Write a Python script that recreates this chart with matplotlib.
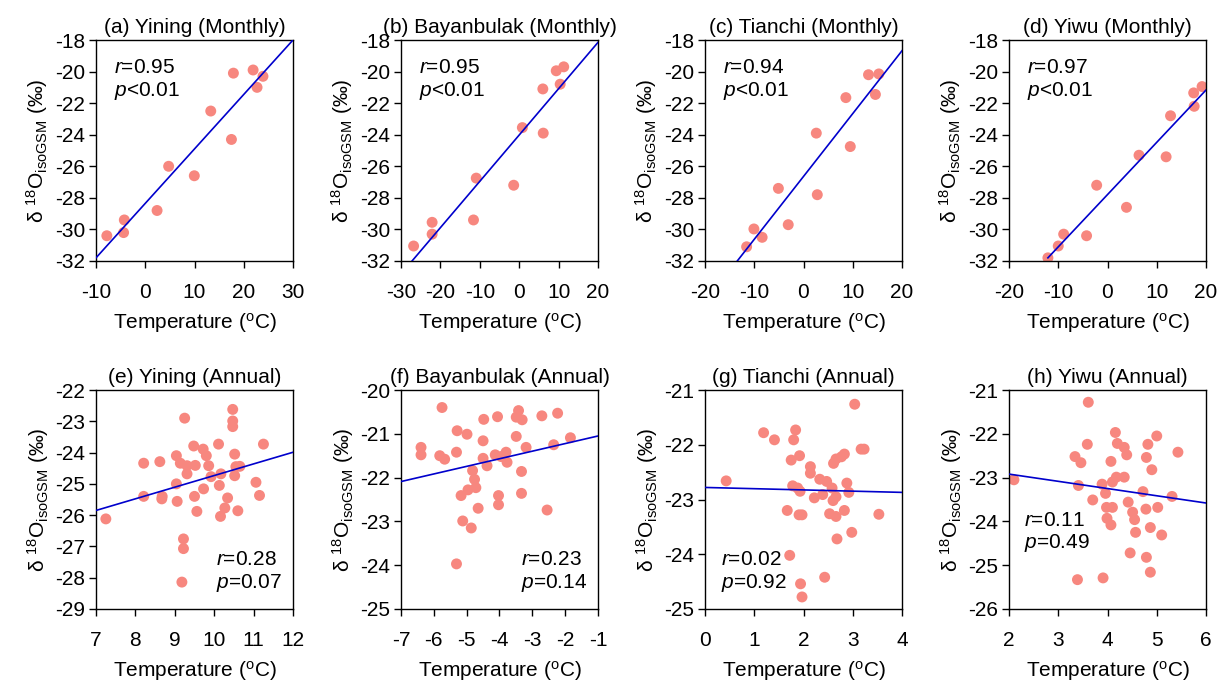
import matplotlib
matplotlib.use("Agg")
import matplotlib.pyplot as plt

plt.rcParams['font.family'] = ['Liberation Sans', 'DejaVu Sans']
plt.rcParams['mathtext.fontset'] = 'custom'
plt.rcParams['mathtext.rm'] = 'Liberation Sans'
plt.rcParams['mathtext.it'] = 'Liberation Sans:italic'
plt.rcParams['axes.unicode_minus'] = False

# ---------------- data ----------------
titles = ["(a) Yining (Monthly)", "(b) Bayanbulak (Monthly)", "(c) Tianchi (Monthly)", "(d) Yiwu (Monthly)",
          "(e) Yining (Annual)", "(f) Bayanbulak (Annual)", "(g) Tianchi (Annual)", "(h) Yiwu (Annual)"]

# Monthly
a_x = [-7.8, -4.25, -4.4, 2.4, 4.75, 9.96, 13.3, 17.5, 17.9, 21.9, 22.7, 23.9]
a_y = [-30.4, -29.4, -30.2, -28.8, -26.0, -26.6, -22.5, -24.3, -20.1, -19.9, -21.0, -20.3]
b_x = [-26.8, -22.1, -22.1, -11.6, -10.9, -1.4, 0.8, 6.0, 6.1, 9.4, 11.3, 10.4]
b_y = [-31.05, -29.55, -30.3, -29.4, -26.75, -27.2, -23.55, -21.1, -23.9, -19.95, -19.7, -20.8]
c_x = [-11.55, -10.07, -8.4, -5.1, -3.1, 2.6, 2.8, 8.6, 9.5, 13.2, 15.3, 14.6]
c_y = [-31.1, -29.97, -30.5, -27.4, -29.7, -23.9, -27.8, -21.65, -24.75, -20.2, -20.15, -21.45]
d_x = [-12.1, -10.0, -8.9, -4.25, -2.2, 3.85, 6.4, 11.9, 12.8, 17.5, 17.6, 19.2]
d_y = [-31.8, -31.05, -30.3, -30.4, -27.2, -28.6, -25.3, -25.4, -22.8, -21.35, -22.2, -20.95]

# Annual
e_x = [7.25, 8.21, 8.21, 8.62, 8.68, 8.67, 9.04, 9.14, 9.04, 9.06, 9.25, 9.31, 9.31, 9.22, 9.22, 9.18,
       9.48, 9.52, 9.50, 9.56, 9.72, 9.80, 9.73, 9.86, 9.92, 10.11, 10.13, 10.17, 10.16, 10.27, 10.34,
       10.47, 10.47, 10.47, 10.52, 10.52, 10.55, 10.65, 10.60, 11.06, 11.15, 11.25]
e_y = [-26.12, -24.34, -25.40, -24.29, -25.40, -25.48, -24.10, -24.34, -25.0, -25.56, -22.9, -24.42,
       -24.68, -26.76, -27.07, -28.14, -23.79, -24.41, -25.40, -25.88, -23.89, -24.10, -25.16, -24.42,
       -24.77, -23.73, -25.05, -24.68, -26.04, -25.77, -25.45, -22.62, -22.99, -23.17, -24.05, -24.74,
       -24.45, -24.44, -25.86, -24.95, -25.37, -23.73]
f_x = [-6.39, -6.39, -5.75, -5.82, -5.67, -5.29, -5.31, -5.31, -5.17, -5.12, -4.99, -4.96, -4.86, -4.82,
       -4.76, -4.72, -4.65, -4.50, -4.48, -4.50, -4.38, -4.13, -4.06, -4.03, -4.03, -3.95, -3.80, -3.77,
       -3.49, -3.42, -3.49, -3.31, -3.33, -3.33, -3.19, -2.71, -2.55, -2.35, -2.23, -1.84]
f_y = [-21.31, -21.48, -20.40, -21.50, -21.58, -20.93, -21.42, -23.97, -22.41, -22.99, -21.01, -22.28,
       -23.15, -21.84, -22.04, -22.23, -22.70, -21.16, -20.67, -21.56, -21.73, -21.48, -20.61, -22.41,
       -22.62, -21.52, -21.42, -21.65, -20.62, -20.47, -21.06, -20.68, -21.86, -22.36, -21.31, -20.59,
       -22.74, -21.25, -20.53, -21.09]
g_x = [0.43, 1.19, 1.41, 1.84, 1.80, 1.75, 1.92, 1.78, 1.88, 1.93, 1.67, 1.91, 1.97, 1.72, 1.94, 1.97,
       2.14, 2.14, 2.22, 2.33, 2.39, 2.47, 2.43, 2.53, 2.58, 2.60, 2.61, 2.66, 2.66, 2.66, 2.68, 2.77,
       2.83, 2.88, 2.92, 2.98, 2.83, 3.04, 3.17, 3.23, 3.53]
g_y = [-22.66, -21.78, -21.91, -21.73, -21.91, -22.28, -22.20, -22.75, -22.79, -22.85, -23.20, -23.28,
       -23.28, -24.02, -24.54, -24.78, -22.40, -22.52, -22.97, -22.63, -22.91, -22.67, -24.42, -23.26,
       -22.79, -23.02, -22.34, -22.26, -22.95, -23.31, -23.72, -22.22, -23.20, -22.70, -22.87, -23.60,
       -22.17, -21.26, -22.08, -22.08, -23.27]
h_x = [2.10, 3.41, 3.34, 3.46, 3.59, 3.61, 3.70, 3.39, 3.89, 3.96, 3.98, 3.99, 3.91, 4.07, 4.10, 4.07,
       4.10, 4.18, 4.16, 4.20, 4.34, 4.34, 4.39, 4.42, 4.46, 4.51, 4.55, 4.57, 4.72, 4.78, 4.79, 4.82,
       4.79, 4.87, 4.87, 4.90, 5.00, 5.02, 5.10, 5.31, 5.43]
h_y = [-23.05, -23.18, -22.52, -22.66, -22.24, -21.28, -23.51, -25.33, -23.15, -23.36, -23.68, -23.93,
       -25.29, -22.63, -23.68, -24.08, -23.10, -22.99, -21.97, -22.22, -22.99, -22.31, -22.48, -23.56,
       -24.72, -23.79, -23.96, -24.25, -23.32, -23.72, -22.54, -22.24, -24.82, -24.14, -25.16, -22.82,
       -22.05, -23.68, -24.31, -23.43, -22.42]

xs = [a_x, b_x, c_x, d_x, e_x, f_x, g_x, h_x]
ys = [a_y, b_y, c_y, d_y, e_y, f_y, g_y, h_y]

# regression lines (read endpoints)
fit_x = [[-10, 30], [-27.2, 20], [-13.45, 20], [-12.1, 20], [7, 12], [-7, -1], [0, 4], [2, 6]]
fit_y = [[-31.8, -18.0], [-32.0, -18.15], [-32.0, -18.68], [-31.8, -21.17],
         [-25.85, -23.99], [-22.09, -21.05], [-22.78, -22.87], [-22.92, -23.58]]

r_vals = ["0.95", "0.95", "0.94", "0.97", "0.28", "0.23", "0.02", "0.11"]
p_vals = ["<0.01", "<0.01", "<0.01", "<0.01", "=0.07", "=0.14", "=0.92", "=0.49"]

xlims = [(-10, 30), (-30, 20), (-20, 20), (-20, 20), (7, 12), (-7, -1), (0, 4), (2, 6)]
ylims = [(-32, -18), (-32, -18), (-32, -18), (-32, -18), (-29, -22), (-25, -20), (-25, -21), (-26, -21)]
xticks = [[-10, 0, 10, 20, 30], [-30, -20, -10, 0, 10, 20], [-20, -10, 0, 10, 20], [-20, -10, 0, 10, 20],
          [7, 8, 9, 10, 11, 12], [-7, -6, -5, -4, -3, -2, -1], [0, 1, 2, 3, 4], [2, 3, 4, 5, 6]]
yticks = [list(range(-32, -17, 2))] * 4 + [list(range(-29, -21)), list(range(-25, -19)),
                                          list(range(-25, -20)), list(range(-26, -20))]

# annotation positions (axes fraction)
txt_pos = [(0.09, 0.875), (0.09, 0.875), (0.09, 0.875), (0.09, 0.875),
           (0.61, 0.225), (0.61, 0.225), (0.08, 0.225), (0.075, 0.405)]

# ---------------- figure ----------------
fig = plt.figure(figsize=(12.22, 6.81), dpi=100)
lefts = [96, 401, 705, 1009]
W, H = 1222, 681
dot_color = "#F7877F"
line_color = "#0000CC"
fs = 15

for i in range(8):
    row, col = divmod(i, 4)
    if row == 0:
        top, bot = 40, 261
    else:
        top, bot = 390, 609
    ax = fig.add_axes([lefts[col] / W, 1 - bot / H, 197 / W, (bot - top) / H])
    ax.scatter(xs[i], ys[i], s=62, color=dot_color, edgecolors='none', zorder=2)
    ax.plot(fit_x[i], fit_y[i], color=line_color, lw=1.2, zorder=3)
    ax.set_xlim(*xlims[i])
    ax.set_ylim(*ylims[i])
    ax.set_xticks(xticks[i])
    ax.set_yticks(yticks[i])
    ax.tick_params(direction='out', length=5, width=1, labelsize=fs, top=False, right=False)
    ax.tick_params(axis='x', pad=11)
    ax.tick_params(axis='y', pad=3)
    for sp in ax.spines.values():
        sp.set_linewidth(1.0)
    ax.set_title(titles[i], fontsize=fs, pad=5)
    ax.set_xlabel(r'Temperature ($^{\rm o}$C)', fontsize=fs, labelpad=6)
    ax.set_ylabel(r'$\rm\delta$ $^{18}$O$_{\rm isoGSM}$ (‰)', fontsize=fs, labelpad=3)
    tx, ty = txt_pos[i]
    ax.text(tx, ty, r'$\it{r}$=' + r_vals[i], transform=ax.transAxes, fontsize=fs, va='center', ha='left')
    ax.text(tx, ty - 0.105, r'$\it{p}$' + p_vals[i], transform=ax.transAxes, fontsize=fs, va='center', ha='left')

fig.savefig("out.png", dpi=100)
